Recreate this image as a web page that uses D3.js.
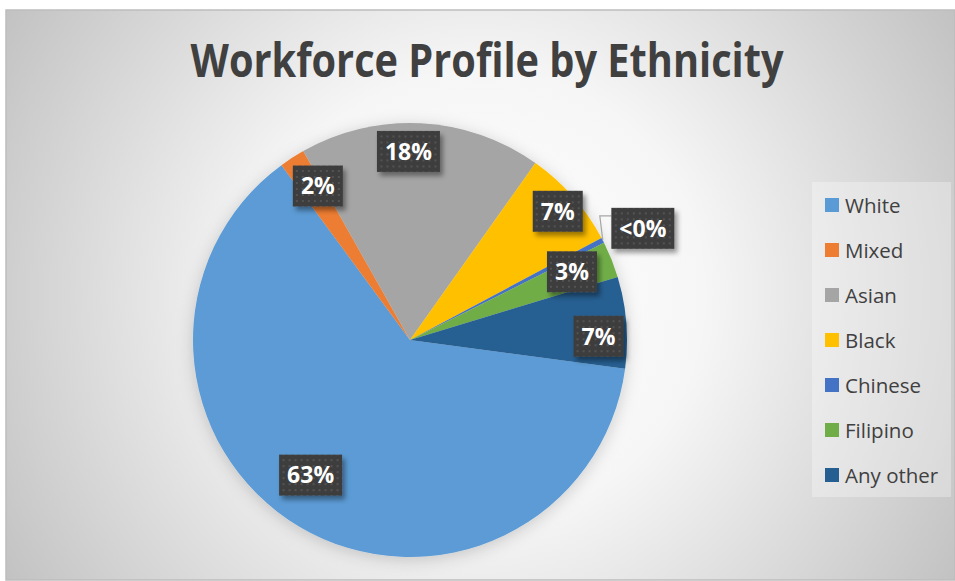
<!DOCTYPE html>
<html>
<head>
<meta charset="utf-8">
<script src="https://cdn.jsdelivr.net/npm/d3@7"></script>
<style>
  html, body { margin: 0; padding: 0; background: #ffffff; }
  svg { display: block; }
  text { font-family: "Open Sans", "Noto Sans", sans-serif; }
</style>
</head>
<body>
<svg id="chart" width="955" height="581"></svg>
<script>
// Workforce share by ethnicity (percent)
const categories = ["White", "Mixed", "Asian", "Black", "Chinese", "Filipino", "Any other"];
const shares     = [62.8, 1.9, 18.0, 7.4, 0.4, 2.7, 6.8];
const colors     = ["#5B9BD5", "#ED7D31", "#A5A5A5", "#FFC000", "#4472C4", "#70AD47", "#255E91"];

// Label placement relative to each slice: [angle shift in degrees, radius fraction]
const labelPlacement = [[5.7, 0.773], [2.0, 0.827], [-3.4, 0.869], [0.3, 0.903], [1.7, 1.19], [-1.1, 0.81], [3.5, 0.869]];

const W = 955, H = 581;
const cx = 410, cy = 340, R = 217;
const firstSliceAngle = 97.6; // degrees clockwise from 12 o'clock

const svg = d3.select("#chart");
const defs = svg.append("defs");

// Chart area background: radial fade from white centre to grey edges
const bg = defs.append("radialGradient").attr("id", "bgGrad")
  .attr("gradientUnits", "userSpaceOnUse")
  .attr("cx", 480).attr("cy", 295).attr("r", 560);
bg.append("stop").attr("offset", 0).attr("stop-color", "#ffffff");
bg.append("stop").attr("offset", 0.4).attr("stop-color", "#f6f6f6");
bg.append("stop").attr("offset", 1).attr("stop-color", "#c1c1c1");

// Soft halo under the pie
const pieShadow = defs.append("filter").attr("id", "pieShadow")
  .attr("x", "-20%").attr("y", "-20%").attr("width", "140%").attr("height", "140%");
pieShadow.append("feDropShadow").attr("dx", 0).attr("dy", 3)
  .attr("stdDeviation", 8).attr("flood-color", "#000").attr("flood-opacity", 0.18);

// Drop shadow for the data label boxes
const boxShadow = defs.append("filter").attr("id", "boxShadow")
  .attr("x", "-30%").attr("y", "-30%").attr("width", "160%").attr("height", "160%");
boxShadow.append("feDropShadow").attr("dx", 3).attr("dy", 4)
  .attr("stdDeviation", 2.5).attr("flood-color", "#000").attr("flood-opacity", 0.4);

// Dotted texture for the label boxes
const dots = defs.append("pattern").attr("id", "dots")
  .attr("patternUnits", "userSpaceOnUse").attr("width", 6).attr("height", 6);
dots.append("rect").attr("width", 6).attr("height", 6).attr("fill", "#3e3e3e");
dots.append("rect").attr("x", 2).attr("y", 2).attr("width", 2).attr("height", 2).attr("fill", "#525252");

// Chart area
svg.append("rect")
  .attr("x", 6).attr("y", 10).attr("width", W - 6).attr("height", 570)
  .attr("fill", "url(#bgGrad)")
  .attr("stroke", "#bdbdbd").attr("stroke-width", 1.5);

// Title
svg.append("text")
  .attr("x", 487).attr("y", 77)
  .attr("text-anchor", "middle")
  .attr("font-size", 46).attr("font-weight", 700)
  .attr("fill", "#404040")
  .attr("textLength", 593).attr("lengthAdjust", "spacingAndGlyphs")
  .text("Workforce Profile by Ethnicity");

// Pie
const data = categories.map((c, i) => ({ name: c, value: shares[i], color: colors[i], place: labelPlacement[i] }));
const toRad = d => d * Math.PI / 180;
const pie = d3.pie().value(d => d.value).sort(null)
  .startAngle(toRad(firstSliceAngle)).endAngle(toRad(firstSliceAngle) + 2 * Math.PI);
const arcs = pie(data);
const arc = d3.arc().innerRadius(0).outerRadius(R);

const g = svg.append("g").attr("transform", `translate(${cx},${cy})`);
g.append("g").attr("filter", "url(#pieShadow)")
  .selectAll("path").data(arcs).join("path")
  .attr("d", arc)
  .attr("fill", d => d.data.color);

// Point on the pie at a clockwise angle (radians) and radius
const polar = (a, r) => [r * Math.sin(a), -r * Math.cos(a)];

const fmt = v => (Math.round(v) < 1 ? "<0%" : Math.round(v) + "%");

const labels = g.append("g");
arcs.forEach(d => {
  const mid = (d.startAngle + d.endAngle) / 2 + toRad(d.data.place[0]);
  const [lx, ly] = polar(mid, R * d.data.place[1]);
  const lg = labels.append("g").attr("transform", `translate(${lx},${ly})`);
  const box = lg.append("rect").attr("fill", "url(#dots)").attr("filter", "url(#boxShadow)");
  const t = lg.append("text")
    .attr("text-anchor", "middle").attr("dy", "0.36em")
    .attr("font-size", 23).attr("font-weight", 700).attr("fill", "#ffffff")
    .text(fmt(d.data.value));
  const tw = t.node().getComputedTextLength();
  const bw = Math.round(tw + 16), bh = 41;
  box.attr("x", -bw / 2).attr("y", -bh / 2).attr("width", bw).attr("height", bh);

  // Leader line for a label placed outside the pie
  if (d.data.place[1] > 1) {
    const [ex, ey] = polar((d.startAngle + d.endAngle) / 2, R);
    const yBox = ly - bh / 2 + 8;
    labels.insert("path", ":first-child")
      .attr("d", `M${ex},${ey} L${ex - 3},${yBox} L${lx - bw / 2},${yBox}`)
      .attr("fill", "none").attr("stroke", "#a6a6a6").attr("stroke-width", 1.2);
  }
});

// Legend
const legend = svg.append("g");
legend.append("rect")
  .attr("x", 812).attr("y", 182).attr("width", 139).attr("height", 315)
  .attr("fill", "#ffffff").attr("fill-opacity", 0.3);
const rowY = d3.scalePoint().domain(categories).range([205, 475]);
const item = legend.selectAll("g.item").data(data).join("g")
  .attr("class", "item")
  .attr("transform", d => `translate(825,${rowY(d.name)})`);
item.append("rect").attr("x", 0).attr("y", -7).attr("width", 14).attr("height", 14)
  .attr("fill", d => d.color);
item.append("text").attr("x", 20).attr("y", 7.5)
  .attr("font-size", 20.5).attr("fill", "#404040")
  .text(d => d.name);
</script>
</body>
</html>
